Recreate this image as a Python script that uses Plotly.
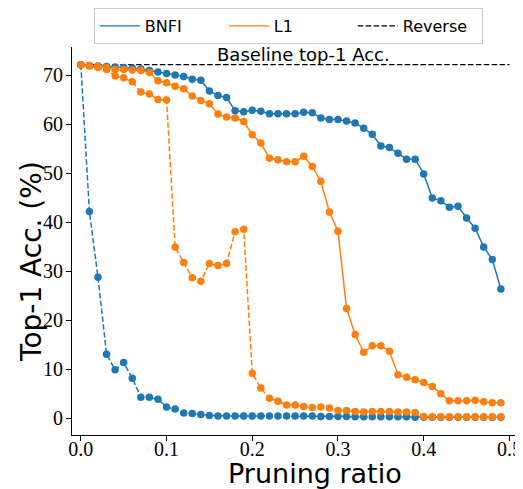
import plotly.graph_objects as go

ratio = [0.00, 0.01, 0.02, 0.03, 0.04, 0.05, 0.06, 0.07, 0.08, 0.09,
         0.10, 0.11, 0.12, 0.13, 0.14, 0.15, 0.16, 0.17, 0.18, 0.19,
         0.20, 0.21, 0.22, 0.23, 0.24, 0.25, 0.26, 0.27, 0.28, 0.29,
         0.30, 0.31, 0.32, 0.33, 0.34, 0.35, 0.36, 0.37, 0.38, 0.39,
         0.40, 0.41, 0.42, 0.43, 0.44, 0.45, 0.46, 0.47, 0.48, 0.49]

bnfi = [72.2, 72.0, 71.9, 71.8, 71.7, 71.6, 71.5, 71.3, 71.0, 70.7,
        70.4, 70.1, 69.8, 69.2, 69.0, 66.8, 65.9, 65.5, 62.8, 62.6,
        62.9, 62.7, 62.2, 62.2, 62.2, 62.2, 62.5, 62.4, 61.3, 61.0,
        61.0, 60.7, 60.3, 59.2, 58.0, 55.6, 55.3, 54.1, 52.9, 52.9,
        49.9, 45.0, 44.4, 43.1, 43.3, 40.9, 38.8, 35.0, 32.4, 26.4]

l1 = [72.2, 72.0, 71.8, 71.6, 71.2, 71.2, 71.1, 71.0, 70.6, 68.9,
      68.5, 67.8, 67.3, 65.8, 64.9, 64.2, 62.1, 61.5, 61.3, 60.6,
      57.9, 56.2, 53.1, 52.8, 52.4, 52.4, 53.5, 51.4, 48.4, 42.1,
      38.2, 22.4, 17.1, 13.5, 14.8, 14.8, 13.7, 8.9, 8.4, 7.9,
      7.3, 6.5, 5.0, 3.6, 3.6, 3.6, 3.7, 3.4, 3.2, 3.2]

bnfi_rev = [72.2, 42.2, 28.8, 13.1, 9.9, 11.4, 8.2, 4.3, 4.3, 3.9,
            2.3, 1.9, 1.1, 1.0, 0.8, 0.6, 0.5, 0.5, 0.5, 0.5,
            0.5, 0.5, 0.5, 0.5, 0.5, 0.5, 0.5, 0.5, 0.4, 0.4,
            0.4, 0.4, 0.3, 0.3, 0.3, 0.3, 0.3, 0.3, 0.3, 0.2,
            0.2, 0.2, 0.2, 0.2, 0.2, 0.2, 0.2, 0.2, 0.2, 0.2]

l1_rev = [72.2, 71.9, 71.6, 71.2, 69.9, 69.5, 68.7, 66.6, 66.2, 65.1,
          65.0, 35.0, 31.8, 28.7, 28.0, 31.6, 31.2, 31.6, 38.1, 38.6,
          9.2, 6.2, 4.1, 3.5, 2.7, 2.7, 2.4, 2.2, 2.3, 2.1,
          1.6, 1.6, 1.4, 1.3, 1.4, 1.4, 1.4, 1.3, 1.3, 1.2,
          0.4, 0.3, 0.3, 0.3, 0.3, 0.3, 0.3, 0.3, 0.3, 0.3]

baseline = 72.2
baseline_x = [0.0, 0.5]
x_ticks = [0.0, 0.1, 0.2, 0.3, 0.4, 0.5]
y_ticks = [0, 10, 20, 30, 40, 50, 60, 70]

BLUE = "#1f77b4"
ORANGE = "#ff7f0e"
DASH = "5.5px,2.4px"
SANS = "DejaVu Sans"
SERIF = "Liberation Serif"

fig = go.Figure()

# baseline
fig.add_trace(go.Scatter(x=baseline_x, y=[baseline, baseline], mode="lines",
                         line=dict(color="black", width=1.2, dash=DASH),
                         showlegend=False, hoverinfo="skip"))

series = [
    (bnfi, BLUE, "solid"),
    (l1, ORANGE, "solid"),
    (bnfi_rev, BLUE, DASH),
    (l1_rev, ORANGE, DASH),
]
for ys, col, dash in series:
    fig.add_trace(go.Scatter(x=ratio, y=ys, mode="lines+markers",
                             line=dict(color=col, width=1.5, dash=dash),
                             marker=dict(color=col, size=7.5, line=dict(width=0)),
                             showlegend=False))

# legend-only entries
for name, col, dash in [("BNFI", BLUE, "solid"), ("L1", ORANGE, "solid"), ("Reverse", "black", DASH)]:
    fig.add_trace(go.Scatter(x=[None], y=[None], mode="lines", name=name,
                             line=dict(color=col, width=1.3, dash=dash)))

fig.add_annotation(x=0.26, y=baseline, xref="x", yref="y", text="Baseline top-1 Acc.",
                   showarrow=False, xanchor="center", yanchor="bottom", yshift=-1,
                   font=dict(family=SANS, size=18, color="black"), borderpad=0)

# axis titles
fig.add_annotation(x=0.545, y=0, xref="paper", yref="paper", text="Pruning ratio",
                   showarrow=False, xanchor="center", yanchor="middle", yshift=-38,
                   font=dict(family=SANS, size=27, color="black"))
fig.add_annotation(x=0, y=0.446, xref="paper", yref="paper", text="Top-1 Acc. (%)",
                   showarrow=False, xanchor="center", yanchor="middle", xshift=-40, textangle=-90,
                   font=dict(family=SANS, size=28, color="black"))

fig.update_layout(
    width=515, height=481,
    margin=dict(l=64, r=5, t=39, b=54, autoexpand=False),
    plot_bgcolor="white", paper_bgcolor="white",
    legend=dict(orientation="h", x=0.485, xanchor="center", y=1.0, yref="container",
                yanchor="top", bordercolor="#cccccc", borderwidth=1,
                font=dict(family=SANS, size=16, color="black"),
                entrywidth=74, itemwidth=40),
    xaxis=dict(range=[-0.0103, 0.51], tickvals=x_ticks, ticktext=[f"{v:.1f}" for v in x_ticks],
               showgrid=False, zeroline=False, showline=True, linecolor="black", linewidth=1.2,
               ticks="outside", ticklen=5, tickcolor="black", automargin=False,
               ticklabelstandoff=-9,
               tickfont=dict(family=SERIF, size=20, color="black")),
    yaxis=dict(range=[-3.4, 75.8], tickvals=y_ticks,
               showgrid=False, zeroline=False, showline=True, linecolor="black", linewidth=1.2,
               ticks="outside", ticklen=5, tickcolor="black", automargin=False,
               ticklabelstandoff=-1,
               tickfont=dict(family=SERIF, size=20, color="black")),
)

fig.write_html("out.html")
